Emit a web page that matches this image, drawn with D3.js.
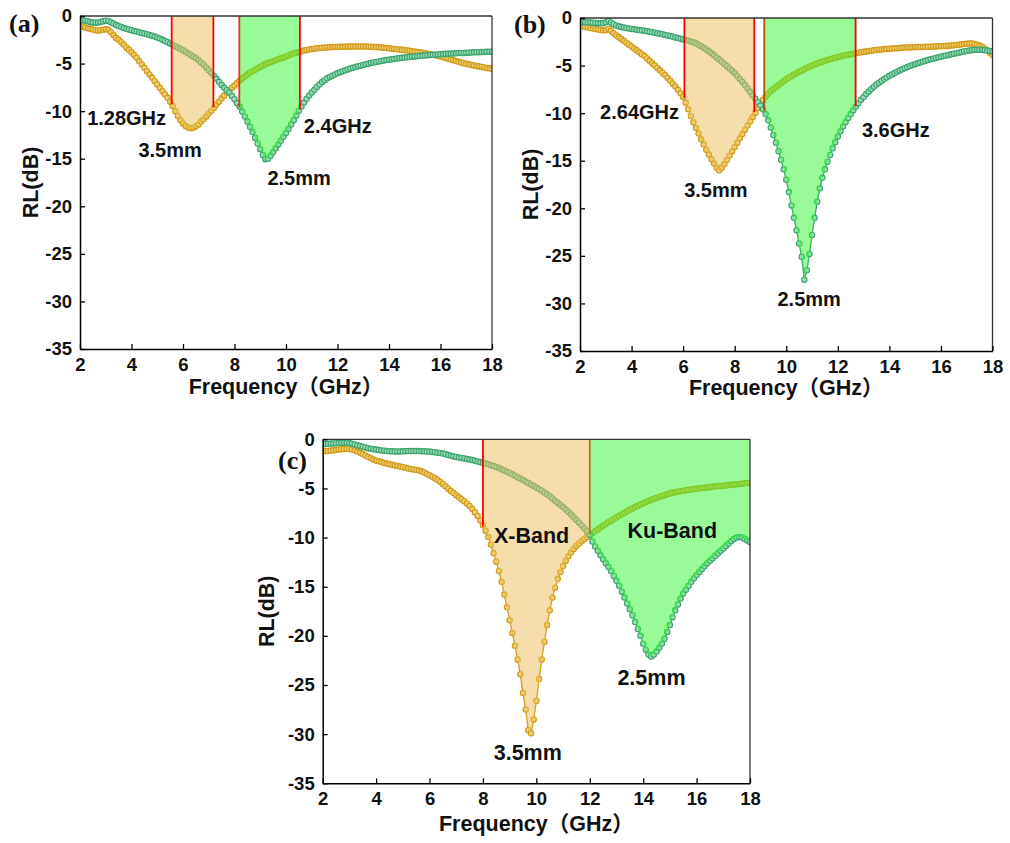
<!DOCTYPE html>
<html><head><meta charset="utf-8">
<script src="https://cdn.jsdelivr.net/npm/d3@7"></script>
<style>body{margin:0;background:#fff}svg{display:block}</style>
</head><body>
<svg id="chart" width="1010" height="843"></svg>
<script>
// measurement grid (GHz)
const freqGHz = d3.range(161).map(i => +(2 + i * 0.1).toFixed(1));
const xTicks = [2, 4, 6, 8, 10, 12, 14, 16, 18];
const yTicks = [0, -5, -10, -15, -20, -25, -30, -35];
const xTitle = "Frequency（GHz）";
const yTitle = "RL(dB)";

// Panel (a)
const rlA_35 = [
-1.05,-1.12,-1.2,-1.28,-1.35,-1.42,-1.5,-1.52,-1.5,-1.45,
-1.4,-1.45,-1.7,-2.0,-2.3,-2.5,-2.75,-3.0,-3.3,-3.55,
-3.8,-4.1,-4.4,-4.75,-5.1,-5.45,-5.8,-6.15,-6.5,-6.85,
-7.2,-7.55,-7.9,-8.25,-8.6,-9.0,-9.45,-10.0,-10.5,-10.95,
-11.3,-11.55,-11.72,-11.8,-11.75,-11.6,-11.4,-11.1,-10.85,-10.55,
-10.25,-9.95,-9.65,-9.3,-9.0,-8.65,-8.35,-8.05,-7.8,-7.55,
-7.3,-7.05,-6.8,-6.55,-6.35,-6.15,-5.95,-5.8,-5.65,-5.5,
-5.35,-5.2,-5.05,-4.95,-4.85,-4.75,-4.65,-4.55,-4.45,-4.35,
-4.25,-4.15,-4.05,-3.95,-3.85,-3.78,-3.7,-3.63,-3.57,-3.52,
-3.47,-3.43,-3.4,-3.37,-3.34,-3.32,-3.3,-3.28,-3.27,-3.26,
-3.25,-3.24,-3.23,-3.22,-3.21,-3.2,-3.2,-3.2,-3.2,-3.2,
-3.2,-3.21,-3.22,-3.23,-3.25,-3.27,-3.29,-3.31,-3.34,-3.37,
-3.4,-3.43,-3.46,-3.49,-3.52,-3.55,-3.58,-3.62,-3.66,-3.7,
-3.74,-3.78,-3.82,-3.86,-3.91,-3.96,-4.01,-4.06,-4.12,-4.19,
-4.26,-4.34,-4.42,-4.5,-4.58,-4.66,-4.74,-4.82,-4.89,-4.96,
-5.02,-5.08,-5.14,-5.2,-5.26,-5.31,-5.36,-5.41,-5.46,-5.5,
-5.54];
const rlA_25 = [
-0.4,-0.45,-0.5,-0.55,-0.62,-0.68,-0.7,-0.68,-0.62,-0.55,
-0.5,-0.52,-0.65,-0.8,-0.95,-1.05,-1.15,-1.25,-1.35,-1.42,
-1.5,-1.57,-1.64,-1.71,-1.78,-1.85,-1.92,-1.99,-2.07,-2.16,
-2.25,-2.37,-2.5,-2.63,-2.76,-2.9,-3.03,-3.17,-3.31,-3.45,
-3.6,-3.76,-3.92,-4.1,-4.27,-4.45,-4.66,-4.88,-5.12,-5.4,
-5.7,-6.0,-6.3,-6.6,-6.92,-7.25,-7.55,-7.8,-8.05,-8.4,
-8.75,-9.15,-9.55,-10.05,-10.55,-11.1,-11.65,-12.2,-12.8,-13.4,
-14.0,-14.6,-15.05,-15.0,-14.7,-14.3,-13.9,-13.5,-13.1,-12.7,
-12.3,-11.85,-11.4,-10.95,-10.45,-9.95,-9.5,-9.1,-8.7,-8.35,
-8.05,-7.75,-7.45,-7.2,-6.95,-6.75,-6.55,-6.4,-6.27,-6.14,
-6.02,-5.9,-5.8,-5.71,-5.62,-5.53,-5.45,-5.37,-5.29,-5.22,
-5.15,-5.08,-5.01,-4.95,-4.89,-4.83,-4.77,-4.72,-4.67,-4.63,
-4.59,-4.55,-4.51,-4.47,-4.43,-4.4,-4.37,-4.34,-4.31,-4.28,
-4.25,-4.22,-4.19,-4.16,-4.14,-4.12,-4.1,-4.08,-4.06,-4.04,
-4.02,-4.0,-3.98,-3.96,-3.95,-3.93,-3.92,-3.9,-3.89,-3.88,
-3.87,-3.85,-3.84,-3.82,-3.81,-3.8,-3.79,-3.78,-3.77,-3.76,
-3.75];

// Panel (b)
const rlB_35 = [
-0.85,-0.9,-0.95,-1.0,-1.05,-1.1,-1.15,-1.2,-1.25,-1.3,
-1.3,-1.15,-1.35,-1.6,-1.8,-2.0,-2.2,-2.4,-2.6,-2.8,
-3.0,-3.2,-3.4,-3.6,-3.8,-4.0,-4.25,-4.5,-4.75,-5.0,
-5.25,-5.5,-5.75,-6.0,-6.3,-6.6,-6.9,-7.2,-7.55,-7.9,
-8.3,-8.9,-9.6,-10.3,-10.95,-11.55,-12.15,-12.75,-13.3,-13.85,
-14.35,-14.85,-15.3,-15.75,-16.0,-15.75,-15.35,-14.9,-14.45,-14.0,
-13.55,-13.1,-12.65,-12.2,-11.75,-11.3,-10.85,-10.4,-9.95,-9.45,
-9.0,-8.6,-8.25,-7.95,-7.7,-7.45,-7.25,-7.05,-6.85,-6.65,
-6.45,-6.28,-6.11,-5.95,-5.8,-5.65,-5.51,-5.38,-5.25,-5.12,
-5.0,-4.89,-4.79,-4.69,-4.59,-4.5,-4.42,-4.34,-4.26,-4.18,
-4.1,-4.04,-3.98,-3.92,-3.86,-3.8,-3.75,-3.7,-3.65,-3.6,
-3.55,-3.51,-3.47,-3.43,-3.39,-3.36,-3.33,-3.3,-3.27,-3.25,
-3.23,-3.21,-3.19,-3.17,-3.15,-3.13,-3.11,-3.1,-3.09,-3.08,
-3.07,-3.06,-3.05,-3.04,-3.03,-3.02,-3.01,-3.0,-2.99,-2.98,
-2.97,-2.95,-2.93,-2.91,-2.89,-2.86,-2.83,-2.8,-2.77,-2.74,
-2.71,-2.68,-2.68,-2.72,-2.8,-2.9,-3.02,-3.2,-3.4,-3.65,
-3.9];
const rlB_25 = [
-0.4,-0.42,-0.44,-0.46,-0.48,-0.5,-0.52,-0.54,-0.56,-0.55,
-0.45,-0.3,-0.5,-0.65,-0.78,-0.88,-0.94,-1.0,-1.05,-1.1,
-1.15,-1.19,-1.23,-1.27,-1.31,-1.35,-1.4,-1.45,-1.5,-1.55,
-1.6,-1.66,-1.72,-1.78,-1.84,-1.9,-1.97,-2.04,-2.11,-2.18,
-2.25,-2.32,-2.4,-2.48,-2.56,-2.66,-2.8,-2.96,-3.13,-3.31,
-3.5,-3.71,-3.92,-4.14,-4.37,-4.6,-4.83,-5.07,-5.31,-5.55,
-5.8,-6.1,-6.4,-6.72,-7.05,-7.4,-7.76,-8.14,-8.5,-8.85,
-9.2,-9.6,-10.1,-10.75,-11.5,-12.3,-13.1,-14.0,-14.9,-15.9,
-17.0,-18.3,-19.7,-21.0,-22.3,-23.7,-25.1,-27.5,-26.5,-24.8,
-22.8,-21.0,-19.3,-17.9,-16.8,-15.9,-15.1,-14.4,-13.7,-13.05,
-12.45,-11.9,-11.4,-10.95,-10.5,-10.1,-9.7,-9.3,-8.95,-8.6,
-8.3,-8.0,-7.72,-7.46,-7.22,-7.0,-6.8,-6.6,-6.42,-6.25,
-6.08,-5.93,-5.78,-5.64,-5.51,-5.39,-5.27,-5.16,-5.05,-4.95,
-4.85,-4.76,-4.67,-4.58,-4.5,-4.42,-4.34,-4.27,-4.2,-4.13,
-4.06,-4.0,-3.94,-3.88,-3.82,-3.76,-3.7,-3.64,-3.58,-3.52,
-3.47,-3.42,-3.38,-3.35,-3.33,-3.33,-3.35,-3.38,-3.42,-3.46,
-3.5];

// Panel (c)
const rlC_35 = [
-1.25,-1.2,-1.18,-1.15,-1.12,-1.1,-1.05,-1.0,-0.98,-0.97,
-0.98,-1.05,-1.15,-1.25,-1.37,-1.5,-1.65,-1.8,-1.94,-2.06,
-2.15,-2.24,-2.32,-2.4,-2.47,-2.54,-2.6,-2.66,-2.72,-2.78,
-2.84,-2.9,-2.96,-3.02,-3.07,-3.12,-3.18,-3.26,-3.38,-3.52,
-3.66,-3.8,-3.96,-4.14,-4.34,-4.55,-4.78,-5.02,-5.25,-5.47,
-5.69,-5.9,-6.1,-6.3,-6.52,-6.78,-7.08,-7.42,-7.8,-8.25,
-8.75,-9.3,-9.95,-10.7,-11.6,-12.45,-13.4,-14.5,-15.8,-17.1,
-18.4,-19.7,-21.0,-22.4,-23.9,-25.8,-27.5,-29.6,-29.9,-28.5,
-26.6,-24.4,-22.4,-20.6,-18.9,-17.4,-16.1,-15.1,-14.2,-13.5,
-12.9,-12.35,-11.9,-11.5,-11.15,-10.85,-10.6,-10.35,-10.15,-9.95,
-9.75,-9.55,-9.36,-9.17,-8.98,-8.8,-8.62,-8.45,-8.28,-8.11,
-7.95,-7.79,-7.63,-7.48,-7.33,-7.18,-7.04,-6.9,-6.77,-6.64,
-6.52,-6.4,-6.28,-6.17,-6.06,-5.96,-5.86,-5.77,-5.68,-5.6,
-5.52,-5.45,-5.39,-5.33,-5.28,-5.23,-5.18,-5.14,-5.1,-5.06,
-5.02,-4.99,-4.96,-4.93,-4.9,-4.87,-4.84,-4.81,-4.78,-4.75,
-4.72,-4.69,-4.66,-4.63,-4.6,-4.57,-4.54,-4.51,-4.48,-4.45,
-4.42];
const rlC_25 = [
-0.5,-0.48,-0.46,-0.44,-0.42,-0.4,-0.38,-0.36,-0.34,-0.33,
-0.38,-0.45,-0.53,-0.61,-0.69,-0.76,-0.83,-0.9,-0.96,-1.01,
-1.05,-1.09,-1.13,-1.16,-1.19,-1.21,-1.22,-1.23,-1.23,-1.23,
-1.22,-1.21,-1.2,-1.2,-1.2,-1.2,-1.2,-1.21,-1.22,-1.23,
-1.25,-1.28,-1.32,-1.36,-1.4,-1.45,-1.52,-1.6,-1.68,-1.74,
-1.8,-1.85,-1.9,-1.95,-2.0,-2.05,-2.11,-2.18,-2.25,-2.32,
-2.4,-2.47,-2.55,-2.63,-2.72,-2.82,-2.93,-3.05,-3.17,-3.29,
-3.42,-3.56,-3.7,-3.85,-4.0,-4.15,-4.3,-4.45,-4.6,-4.75,
-4.9,-5.06,-5.23,-5.41,-5.6,-5.8,-6.02,-6.24,-6.46,-6.68,
-6.9,-7.15,-7.4,-7.66,-7.93,-8.2,-8.48,-8.77,-9.07,-9.38,
-9.7,-10.4,-10.9,-11.35,-11.8,-12.2,-12.6,-13.0,-13.4,-13.9,
-14.4,-14.9,-15.5,-16.1,-16.7,-17.3,-17.9,-18.6,-19.3,-20.0,
-20.8,-21.4,-21.9,-22.1,-21.9,-21.6,-21.2,-20.8,-20.3,-19.6,
-18.9,-18.1,-17.4,-16.8,-16.2,-15.7,-15.3,-14.9,-14.5,-14.15,
-13.8,-13.5,-13.2,-12.9,-12.6,-12.35,-12.1,-11.85,-11.6,-11.35,
-11.1,-10.85,-10.6,-10.35,-10.15,-10.0,-9.95,-10.0,-10.15,-10.3,
-10.45];

// absorption bands (GHz) and RL at their edges (dB)
const bandsA = [
  {from: 5.56, to: 7.18, series: "3.5mm", endFrom: -9.3, endTo: -9.6},
  {from: 8.19, to: 10.54, series: "2.5mm", endFrom: -9.6, endTo: -9.8}];
const bandsB = [
  {from: 6.05, to: 8.76, series: "3.5mm", endFrom: -8.4, endTo: -9.9},
  {from: 9.15, to: 12.69, series: "2.5mm", endFrom: -9.8, endTo: -9.3}];
const bandsC = [
  {from: 8, to: 12, series: "3.5mm", endFrom: -8.9, endTo: -9.75},
  {from: 12, to: 18, series: "2.5mm", endFrom: -9.7, endTo: -10.45}];

// annotations: text, frequency (centre), RL (baseline)
const notesA = [["1.28GHz", 3.81, -11.46], ["3.5mm", 5.5, -14.83], ["2.5mm", 10.51, -17.77], ["2.4GHz", 12.01, -12.27]];
const notesB = [["2.64GHz", 4.31, -10.65], ["3.5mm", 7.27, -18.8], ["2.5mm", 10.89, -30.3], ["3.6GHz", 14.25, -12.5]];
const notesC = [["X-Band", 9.82, -10.52], ["Ku-Band", 15.09, -10.07], ["2.5mm", 14.31, -25.0], ["3.5mm", 9.68, -32.6]];

const panels = [
  {label: "(a)", l: 80, r: 492, t: 16, b: 349, lx: 9, ly: 32, ytx: 37.5, xtDy: 45, s35: rlA_35, s25: rlA_25, bands: bandsA, notes: notesA, ns: 20},
  {label: "(b)", l: 580, r: 992.5, t: 18, b: 351, lx: 514, ly: 33, ytx: 537.5, xtDy: 44, s35: rlB_35, s25: rlB_25, bands: bandsB, notes: notesB, ns: 20},
  {label: "(c)", l: 322.7, r: 750, t: 439.3, b: 783.3, lx: 278, ly: 469, ytx: 274, xtDy: 48, s35: rlC_35, s25: rlC_25, bands: bandsC, notes: notesC, ns: 21.5}
];

const GOLD = "#D09A16", GOLD_L = "#EFCD70";
const GREEN = "#3AA46F", GREEN_L = "#9ADBB6";
const TAN = "#EBBE5A", LIME = "#31F731";
const SANS = "'Liberation Sans', Arial, 'Noto Sans CJK SC', sans-serif";

const svg = d3.select("#chart");
const defs = svg.append("defs");

panels.forEach((p, pi) => {
  const x = d3.scaleLinear().domain([2, 18]).range([p.l, p.r]);
  const y = d3.scaleLinear().domain([0, -35]).range([p.t, p.b]);
  const clipId = "clip" + pi;
  defs.append("clipPath").attr("id", clipId).append("rect")
    .attr("x", p.l).attr("y", p.t).attr("width", p.r - p.l).attr("height", p.b - p.t);
  const g = svg.append("g");
  const plot = g.append("g").attr("clip-path", `url(#${clipId})`);

  const series = [
    {vals: p.s35, c: GOLD, f: GOLD_L},
    {vals: p.s25, c: GREEN, f: GREEN_L}];
  series.forEach(s => {
    const pts = freqGHz.map((f, i) => [f, s.vals[i]]);
    plot.append("path")
      .attr("d", d3.line().x(d => x(d[0])).y(d => y(d[1]))(pts))
      .attr("fill", "none").attr("stroke", s.c).attr("stroke-width", 1.4);
    plot.append("g").selectAll("circle").data(pts).join("circle")
      .attr("cx", d => x(d[0])).attr("cy", d => y(d[1])).attr("r", 2.7)
      .attr("fill", s.f).attr("stroke", s.c).attr("stroke-width", 1.1);
  });

  const edgeLine = (layer, fx, end) => layer.append("line")
    .attr("x1", x(fx)).attr("x2", x(fx)).attr("y1", y(0)).attr("y2", y(end))
    .attr("stroke", "#FF0000").attr("stroke-width", 1.8);

  const greenFrom = p.bands[1].from;
  // edges lying at the green band's lower limit sit beneath its translucent fill
  edgeLine(plot, greenFrom, p.bands[1].endFrom);

  p.bands.forEach((b, bi) => {
    const vals = b.series === "3.5mm" ? p.s35 : p.s25;
    const inner = freqGHz.map((f, i) => [f, vals[i]])
      .filter(d => d[0] > b.from + 1e-6 && d[0] < b.to - 1e-6);
    const poly = [[b.from, 0], [b.from, b.endFrom], ...inner, [b.to, b.endTo], [b.to, 0]];
    plot.append("path")
      .attr("d", d3.line().x(d => x(d[0])).y(d => y(d[1]))(poly) + "Z")
      .attr("fill", bi === 0 ? TAN : LIME).attr("fill-opacity", 0.5).attr("stroke", "none");
  });

  const tan = p.bands[0], grn = p.bands[1];
  edgeLine(plot, tan.from, tan.endFrom);
  if (Math.abs(tan.to - greenFrom) > 1e-6) edgeLine(plot, tan.to, tan.endTo);
  if (grn.to < 18) edgeLine(plot, grn.to, grn.endTo);

  // frame
  g.append("line").attr("x1", p.l).attr("x2", p.r).attr("y1", p.t).attr("y2", p.t)
    .attr("stroke", "#333").attr("stroke-width", 1.3);
  g.append("line").attr("x1", p.r).attr("x2", p.r).attr("y1", p.t).attr("y2", p.b)
    .attr("stroke", "#333").attr("stroke-width", 1.3);

  const xa = g.append("g").attr("transform", `translate(0,${p.b})`)
    .call(d3.axisBottom(x).tickValues(xTicks).tickSizeInner(-5).tickSizeOuter(0)
      .tickPadding(9).tickFormat(d => String(d)));
  const ya = g.append("g").attr("transform", `translate(${p.l},0)`)
    .call(d3.axisLeft(y).tickValues(yTicks).tickSizeInner(-5).tickSizeOuter(0)
      .tickPadding(8).tickFormat(d => String(d)));
  [xa, ya].forEach(a => {
    a.select(".domain").attr("stroke", "#000").attr("stroke-width", 1.5);
    a.selectAll(".tick line").attr("stroke", "#000").attr("stroke-width", 1.3);
    a.selectAll(".tick text").attr("font-family", SANS).attr("font-weight", "bold")
      .attr("font-size", 18.5).attr("fill", "#111");
  });

  g.append("text").attr("x", (p.l + p.r) / 2).attr("y", p.b + p.xtDy)
    .attr("text-anchor", "middle").attr("font-family", SANS).attr("font-weight", "bold")
    .attr("font-size", 21.5).attr("fill", "#111").text(xTitle);
  g.append("text").attr("transform", `translate(${p.ytx},${(p.t + p.b) / 2}) rotate(-90)`)
    .attr("text-anchor", "middle").attr("font-family", SANS).attr("font-weight", "bold")
    .attr("font-size", 21.5).attr("fill", "#111").text(yTitle);
  g.append("text").attr("x", p.lx).attr("y", p.ly)
    .attr("font-family", "'Liberation Serif', 'Times New Roman', serif").attr("font-weight", "bold")
    .attr("font-size", 26).attr("fill", "#111").text(p.label);

  g.selectAll(null).data(p.notes).join("text")
    .attr("x", d => x(d[1])).attr("y", d => y(d[2]))
    .attr("text-anchor", "middle").attr("font-family", SANS).attr("font-weight", "bold")
    .attr("font-size", p.ns).attr("fill", "#111").text(d => d[0]);
});
</script>
</body></html>
